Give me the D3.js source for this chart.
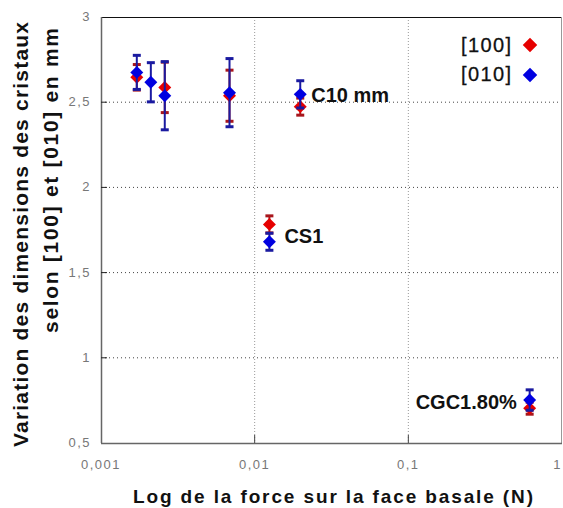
<!doctype html>
<html lang="fr">
<head>
<meta charset="UTF-8">
<title>Variation des dimensions des cristaux</title>
<style>
  html, body { margin: 0; padding: 0; background: #fff; }
  svg { display: block; font-family: 'Liberation Sans', Arial, sans-serif; }
  .tick-label { fill: #777; font-size: 13px; letter-spacing: 1.5px; }
  .pt-label { font-size: 20px; font-weight: bold; fill: #111; }
  .title { font-size: 19px; font-weight: bold; fill: #111; }
</style>
</head>
<body>
<svg width="563" height="508"></svg>
<script src="https://d3js.org/d3.v7.min.js"></script>
<script>
  // force on basal face (N), one per sample
  const forces = [0.00171, 0.00211, 0.0026, 0.00686, 0.0198, 0.01247, 0.616]
  // [100] direction
  const val100 = [2.646, null, 2.587, 2.538, 2.474, 1.783, 0.704]
  const err100 = [0.075, null, 0.148, 0.15, 0.05, 0.05, 0.035]
  // [010] direction
  const val010 = [2.675, 2.617, 2.538, 2.556, 2.546, 1.681, 0.752]
  const err010 = [0.10, 0.115, 0.2, 0.2, 0.08, 0.05, 0.06]

  const xTicks = [0.001, 0.01, 0.1, 1]
  const xTickLabels = ['0,001', '0,01', '0,1', '1']
  const yTicks = [0.5, 1, 1.5, 2, 2.5, 3]
  const yTickLabels = ['0,5', '1', '1,5', '2', '2,5', '3']

  const sampleNames = ['C10 mm', 'CS1', 'CGC1.80%']
  const sampleIdx = [4, 5, 6]
  const seriesNames = ['[100]', '[010]']

  const svg = d3.select('svg')
  const pLeft = 101, pRight = 562, pTop = 17, pBottom = 443

  const x = d3.scaleLog().domain([0.001, 1]).range([pLeft, pRight])
  const y = d3.scaleLinear().domain([0.5, 3]).range([pBottom, pTop])

  // grid
  svg.append('g')
    .selectAll('line')
    .data(yTicks.filter(d => d > 0.5 && d < 3))
    .enter()
    .append('line')
    .attr('x1', pLeft).attr('x2', pRight)
    .attr('y1', d => y(d)).attr('y2', d => y(d))
    .attr('stroke', '#444').attr('stroke-width', 1)
    .attr('stroke-dasharray', '1,3')

  svg.append('g')
    .selectAll('line')
    .data([0.01, 0.1])
    .enter()
    .append('line')
    .attr('x1', d => x(d)).attr('x2', d => x(d))
    .attr('y1', pTop).attr('y2', pBottom)
    .attr('stroke', '#999').attr('stroke-width', 1)
    .attr('stroke-dasharray', '1,2')

  // frame
  svg.append('line').attr('x1', pLeft).attr('x2', pRight).attr('y1', pTop + 0.5).attr('y2', pTop + 0.5)
    .attr('stroke', '#111')
  svg.append('line').attr('x1', pRight - 0.5).attr('x2', pRight - 0.5).attr('y1', pTop).attr('y2', pBottom)
    .attr('stroke', '#999')
  svg.append('line').attr('x1', pLeft + 0.5).attr('x2', pLeft + 0.5).attr('y1', pTop).attr('y2', pBottom)
    .attr('stroke', '#666').attr('stroke-width', 1.5)
  svg.append('line').attr('x1', pLeft).attr('x2', pRight).attr('y1', pBottom + 0.5).attr('y2', pBottom + 0.5)
    .attr('stroke', '#666').attr('stroke-width', 1.5)

  // ticks
  svg.append('g')
    .selectAll('line')
    .data(yTicks.filter(d => d > 0.5 && d < 3))
    .enter()
    .append('line')
    .attr('x1', pLeft).attr('x2', pLeft + 6)
    .attr('y1', d => y(d)).attr('y2', d => y(d))
    .attr('stroke', '#222')
  svg.append('g')
    .selectAll('line')
    .data([0.01, 0.1])
    .enter()
    .append('line')
    .attr('x1', d => x(d)).attr('x2', d => x(d))
    .attr('y1', pBottom).attr('y2', pBottom - 8)
    .attr('stroke', '#444')

  // tick labels
  svg.append('g')
    .selectAll('text')
    .data(yTicks)
    .enter()
    .append('text')
    .attr('class', 'tick-label')
    .attr('x', 91)
    .attr('y', d => y(d) + 4)
    .attr('text-anchor', 'end')
    .text((d, i) => yTickLabels[i])

  svg.append('g')
    .selectAll('text')
    .data(xTicks)
    .enter()
    .append('text')
    .attr('class', 'tick-label')
    .attr('x', d => d === 1 ? 562 : x(d))
    .attr('y', 469)
    .attr('text-anchor', d => d === 1 ? 'end' : 'middle')
    .text((d, i) => xTickLabels[i])

  // square diamond (rotated square), not d3's narrow kite
  const squareDiamond = {
    draw(ctx, size) {
      const r = Math.sqrt(size / 2)
      ctx.moveTo(0, -r)
      ctx.lineTo(r, 0)
      ctx.lineTo(0, r)
      ctx.lineTo(-r, 0)
      ctx.closePath()
    }
  }
  const diamond = d3.symbol().type(squareDiamond)

  function drawSeries(vals, errs, barColor, fill) {
    const g = svg.append('g')
    const rows = forces.map((f, i) => ({ f, v: vals[i], e: errs[i] })).filter(d => d.v != null)
    const bars = g.selectAll('g.bar').data(rows).enter().append('g')
    bars.append('line')
      .attr('x1', d => x(d.f)).attr('x2', d => x(d.f))
      .attr('y1', d => y(d.v - d.e)).attr('y2', d => y(d.v + d.e))
      .attr('stroke', barColor).attr('stroke-width', 2)
    bars.selectAll('line.cap')
      .data(d => [d.v - d.e, d.v + d.e].map(v => ({ f: d.f, v })))
      .enter()
      .append('line')
      .attr('x1', d => x(d.f) - 4).attr('x2', d => x(d.f) + 4)
      .attr('y1', d => y(d.v)).attr('y2', d => y(d.v))
      .attr('stroke', barColor).attr('stroke-width', 3)
    g.selectAll('path')
      .data(rows)
      .enter()
      .append('path')
      .attr('d', diamond.size(84))
      .attr('transform', d => `translate(${x(d.f)},${y(d.v)})`)
      .attr('fill', fill)
  }

  drawSeries(val100, err100, '#a8161c', '#e60000')
  drawSeries(val010, err010, '#1a1aa0', '#0000e0')

  // sample labels
  const labelPos = [[11, 1], [15, -6], [-114, 2]]
  svg.append('g')
    .selectAll('text')
    .data(sampleIdx)
    .enter()
    .append('text')
    .attr('class', 'pt-label')
    .attr('x', (d, i) => x(forces[d]) + labelPos[i][0])
    .attr('y', (d, i) => y(val010[d]) + labelPos[i][1] + 7)
    .text((d, i) => sampleNames[i])

  // legend
  const legend = svg.append('g')
  const legendFill = ['#e60000', '#0000e0']
  seriesNames.forEach((name, i) => {
    legend.append('text')
      .attr('x', 511).attr('y', 52 + i * 29)
      .attr('text-anchor', 'end')
      .style('font-size', '20px')
      .attr('textLength', 50)
      .attr('fill', '#111')
      .attr('stroke', '#111').attr('stroke-width', 0.3)
      .text(name)
    legend.append('path')
      .attr('d', diamond.size(106))
      .attr('transform', `translate(530,${45 + i * 30})`)
      .attr('fill', legendFill[i])
  })

  // axis titles
  svg.append('text')
    .attr('class', 'title')
    .attr('x', 333).attr('y', 503)
    .attr('text-anchor', 'middle')
    .attr('textLength', 400)
    .text('Log de la force sur la face basale (N)')

  const yTitle = ['Variation des dimensions des cristaux', 'selon [100] et [010] en mm']
  const yTitlePos = [[20, 234.5, 425], [50, 180.5, 305]]
  yTitle.forEach((t, i) => {
    svg.append('text')
      .attr('class', 'title')
      .attr('transform', `translate(${yTitlePos[i][0]},${yTitlePos[i][1]}) rotate(-90)`)
      .attr('dy', '0.36em')
      .attr('text-anchor', 'middle')
      .attr('textLength', yTitlePos[i][2])
      .style('font-size', '21px')
      .text(t)
  })
</script>
</body>
</html>
